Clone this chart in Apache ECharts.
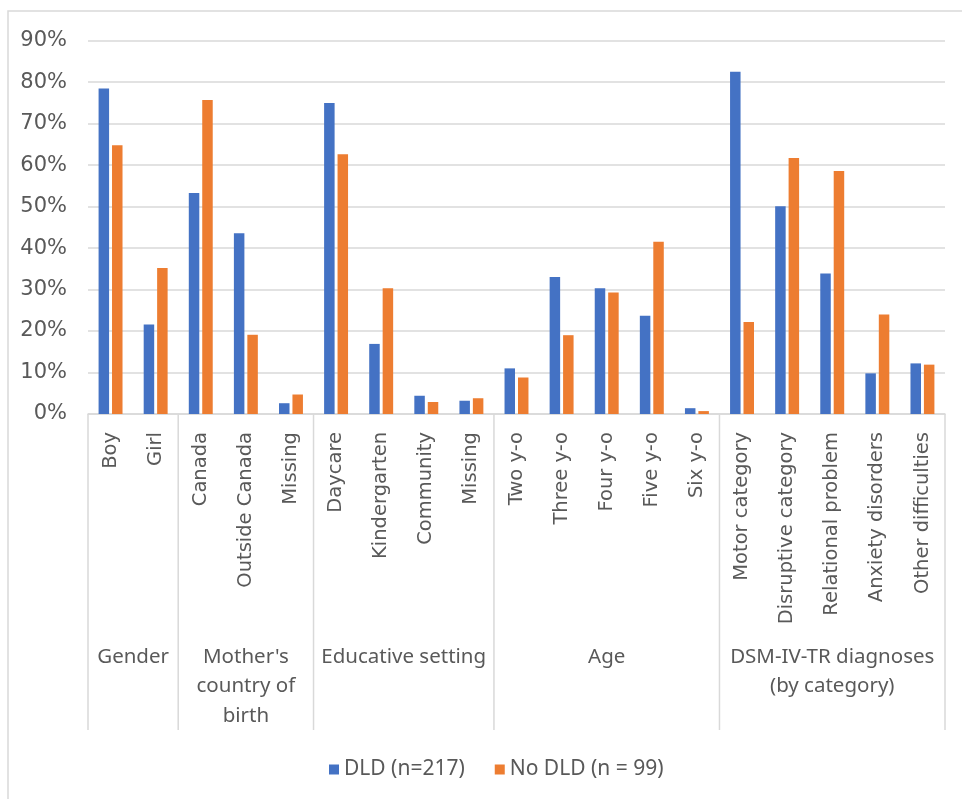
<!DOCTYPE html>
<html>
<head>
<meta charset="utf-8">
<script src="https://cdn.jsdelivr.net/npm/echarts@6/dist/echarts.min.js"></script>
<style>
html,body{margin:0;padding:0;background:#fff;}
#chart{width:962px;height:799px;}
</style>
</head>
<body>
<div id="chart"></div>
<script>
const categories = ['Boy','Girl','Canada','Outside Canada','Missing','Daycare','Kindergarten','Community','Missing','Two y-o','Three y-o','Four y-o','Five y-o','Six y-o','Motor category','Disruptive category','Relational problem','Anxiety disorders','Other difficulties'];
const dldValues = [78.5,21.6,53.3,43.6,2.6,75.0,16.9,4.4,3.2,11.0,33.0,30.3,23.7,1.4,82.5,50.1,33.9,9.8,12.2];
const noDldValues = [64.8,35.2,75.7,19.1,4.7,62.6,30.3,2.9,3.8,8.8,19.0,29.3,41.5,0.7,22.2,61.7,58.6,24.0,11.9];
const groupNames = ['Gender',"Mother's\ncountry of\nbirth",'Educative setting','Age','DSM-IV-TR diagnoses\n(by category)'];
const groupSizes = [2,3,4,5,5];
const seriesNames = ['DLD (n=217)','No DLD (n = 99)'];
const yTicks = [0,10,20,30,40,50,60,70,80,90];

const chart = echarts.init(document.getElementById('chart'));
const gridColor = '#d9d9d9';
const textColor = '#595959';
chart.setOption({
  animation:false,
  backgroundColor:'#fff',
  grid:{left:88,right:17,top:40.7,bottom:385},
  legend:{
    data:seriesNames,
    left:324, top:754,
    icon:'rect', itemWidth:10, itemHeight:10, itemGap:30,
    textStyle:{color:textColor,fontSize:21,fontFamily:'Noto Sans'}
  },
  xAxis:{
    type:'category',
    data:categories,
    axisLine:{show:true,lineStyle:{color:gridColor,width:1.5}},
    axisTick:{show:false},
    axisLabel:{rotate:90,interval:0,margin:18,color:textColor,fontSize:19.5,fontFamily:'DejaVu Sans'}
  },
  yAxis:{
    type:'value',
    min:yTicks[0], max:yTicks[yTicks.length-1], interval:10,
    axisLine:{show:false}, axisTick:{show:false},
    splitLine:{lineStyle:{color:gridColor,width:1.5}},
    axisLabel:{formatter:'{value}%',margin:21,color:textColor,fontSize:21,fontFamily:'DejaVu Sans'}
  },
  series:[
    {name:seriesNames[0],type:'bar',data:dldValues,itemStyle:{color:'#4472C4'},barWidth:10.5,barGap:'28%'},
    {name:seriesNames[1],type:'bar',data:noDldValues,itemStyle:{color:'#ED7D31'},barWidth:10.5,barGap:'28%'}
  ]
});

// group dividers and labels, positioned from the category axis scale
const c0 = chart.convertToPixel({xAxisIndex:0},0);
const c1 = chart.convertToPixel({xAxisIndex:0},1);
const bw = c1 - c0;
const axisY = chart.convertToPixel({yAxisIndex:0},0);
const elements = [];
let idx = 0;
const bounds = [c0 - bw/2];
groupSizes.forEach(n => { idx += n; bounds.push(c0 - bw/2 + idx*bw); });
bounds.forEach(x => {
  elements.push({type:'line',shape:{x1:x,y1:axisY,x2:x,y2:axisY+316},style:{stroke:gridColor,lineWidth:1.5},silent:true});
});
groupNames.forEach((name,i) => {
  const cx = (bounds[i]+bounds[i+1])/2;
  elements.push({type:'text',x:cx,y:axisY+228,style:{text:name,textAlign:'center',textVerticalAlign:'top',fill:textColor,fontSize:20.5,lineHeight:29.5,fontFamily:'Noto Sans'},silent:true});
});
elements.push({type:'rect',shape:{x:8,y:11,width:1200,height:1200},style:{fill:'none',stroke:gridColor,lineWidth:1.5},silent:true,z:-1});
chart.setOption({graphic:{elements:elements}});
</script>
</body>
</html>
